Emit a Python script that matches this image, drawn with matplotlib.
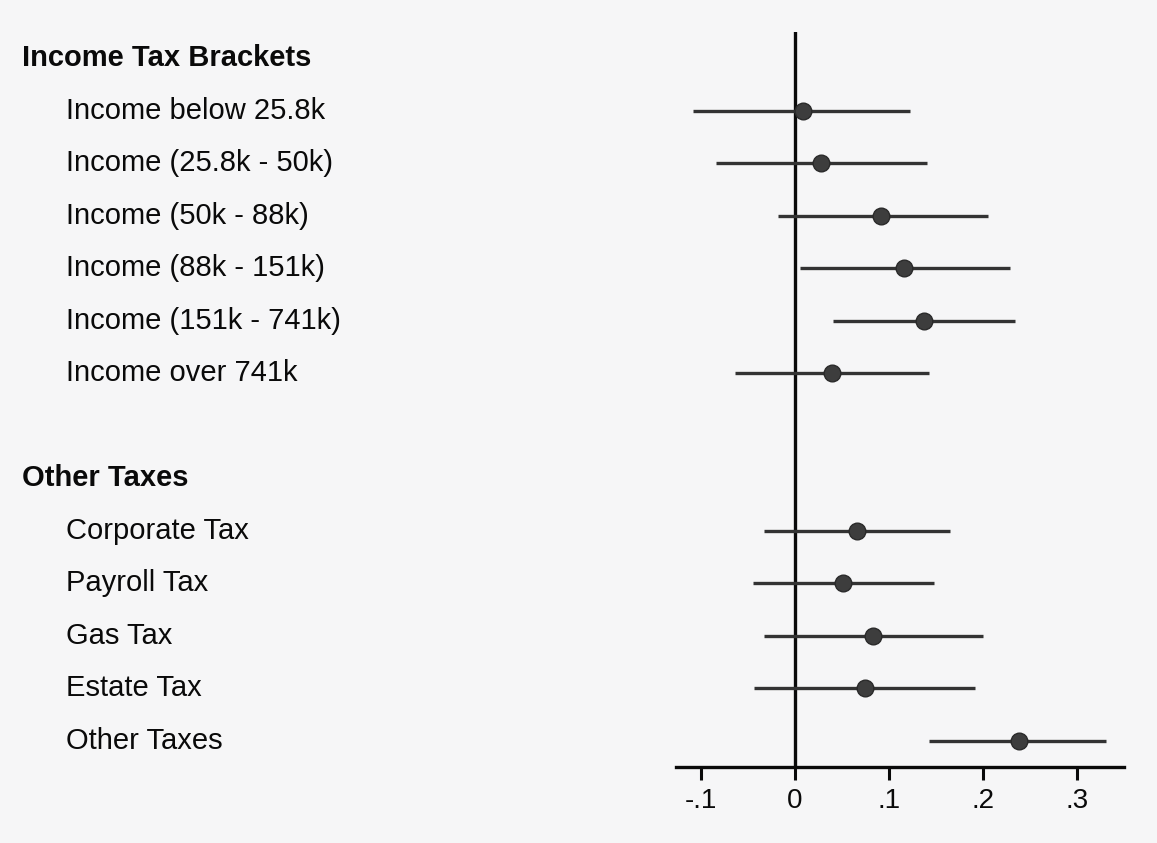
import matplotlib
matplotlib.use("Agg")
import matplotlib.pyplot as plt
import matplotlib.transforms as mtransforms

# Coefficient estimates with 95% confidence intervals
income_labels = ["Income below 25.8k", "Income (25.8k - 50k)", "Income (50k - 88k)",
                 "Income (88k - 151k)", "Income (151k - 741k)", "Income over 741k"]
income_coef = [0.008, 0.028, 0.092, 0.116, 0.137, 0.039]
income_lo = [-0.108, -0.084, -0.018, 0.005, 0.040, -0.064]
income_hi = [0.122, 0.140, 0.205, 0.229, 0.234, 0.143]

other_labels = ["Corporate Tax", "Payroll Tax", "Gas Tax", "Estate Tax", "Other Taxes"]
other_coef = [0.066, 0.051, 0.083, 0.074, 0.238]
other_lo = [-0.033, -0.045, -0.033, -0.044, 0.143]
other_hi = [0.165, 0.148, 0.200, 0.192, 0.331]

group_titles = ["Income Tax Brackets", "Other Taxes"]
xticks = [-0.1, 0.0, 0.1, 0.2, 0.3]
xtick_labels = ["-.1", "0", ".1", ".2", ".3"]

plt.rcParams["font.family"] = ["Liberation Sans", "DejaVu Sans"]

W, H = 1157, 843
bg = "#f6f6f7"
fig = plt.figure(figsize=(W / 100, H / 100), dpi=100, facecolor=bg)
ax = fig.add_axes([676 / W, 1 - 767 / H, (1124 - 676) / W, (767 - 32) / H])
ax.set_facecolor(bg)

# Layout rows: group header, its items, a blank spacer, next header, its items
rows = []
rows.append(("header", group_titles[0], None))
for lab, c, lo, hi in zip(income_labels, income_coef, income_lo, income_hi):
    rows.append(("item", lab, (c, lo, hi)))
rows.append(("blank", "", None))
rows.append(("header", group_titles[1], None))
for lab, c, lo, hi in zip(other_labels, other_coef, other_lo, other_hi):
    rows.append(("item", lab, (c, lo, hi)))

n = len(rows)
ax.set_ylim(n - 0.5, -0.5)
ax.set_xlim(-0.1266, 0.35)

ax.axvline(0, color="#0a0a0a", lw=2.4, zorder=1)

trans = mtransforms.blended_transform_factory(fig.transFigure, ax.transData)
for i, (kind, lab, vals) in enumerate(rows):
    if kind == "header":
        ax.text(22 / W, i, lab, transform=trans, ha="left", va="center",
                fontsize=21, fontweight="bold", color="#0a0a0a")
    elif kind == "item":
        c, lo, hi = vals
        ax.plot([lo, hi], [i, i], color="#333333", lw=2.4, solid_capstyle="butt", zorder=2)
        ax.plot([c], [i], marker="o", ms=12, color="#3d3d3d",
                markeredgecolor="#2a2a2a", markeredgewidth=1, zorder=3)
        ax.text(66 / W, i, lab, transform=trans, ha="left", va="center",
                fontsize=21, color="#0a0a0a")

for side in ("top", "right", "left"):
    ax.spines[side].set_visible(False)
ax.spines["bottom"].set_linewidth(2.4)
ax.spines["bottom"].set_color("#0a0a0a")
ax.set_yticks([])
ax.set_xticks(xticks)
ax.set_xticklabels(xtick_labels, fontsize=20)
ax.tick_params(axis="x", length=9, width=2.2, color="#0a0a0a", pad=6, labelcolor="#0a0a0a")

fig.savefig("out.png", dpi=100, facecolor=fig.get_facecolor())
